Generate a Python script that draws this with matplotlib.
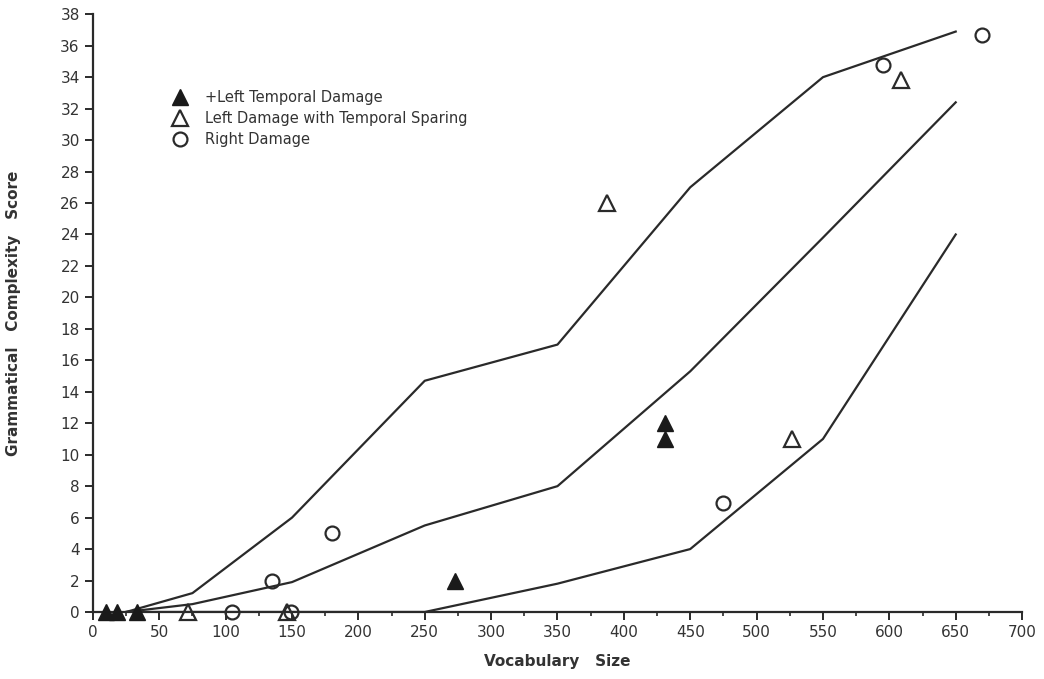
import matplotlib.pyplot as plt
import numpy as np

# percentile curves
curve_x = [25, 75, 150, 250, 350, 450, 550, 650]
upper_y = [0, 1.2, 6.0, 14.7, 17.0, 27.0, 34.0, 36.9]
middle_y = [0, 0.5, 1.9, 5.5, 8.0, 15.3, 23.8, 32.4]
lower_y = [0, 0, 0, 0, 1.8, 4.0, 11.0, 24.0]

# subject groups
ltd_x = [10, 18, 33, 273, 431, 431]
ltd_y = [0, 0, 0, 2, 12, 11]
lsp_x = [72, 146, 387, 527, 609]
lsp_y = [0, 0, 26, 11, 33.8]
rd_x = [105, 135, 149, 180, 475, 595, 670]
rd_y = [0, 2, 0, 5, 6.9, 34.8, 36.7]

fig = plt.figure(figsize=(10.44, 6.79), dpi=100)
ax = fig.add_axes([0.089, 0.0987, 0.89, 0.8803])

for cy in (upper_y, middle_y, lower_y):
    ax.plot(curve_x, cy, color='#2a2a2a', lw=1.6, zorder=2)

ax.plot(ltd_x, ltd_y, ls='none', marker='^', ms=11, color='#1a1a1a',
        label='+Left Temporal Damage', zorder=3, clip_on=False)
ax.plot(lsp_x, lsp_y, ls='none', marker='^', ms=12, mfc='none', mec='#2a2a2a',
        mew=1.6, label='Left Damage with Temporal Sparing', zorder=3, clip_on=False)
ax.plot(rd_x, rd_y, ls='none', marker='o', ms=10, mfc='none', mec='#2a2a2a',
        mew=1.6, label='Right Damage', zorder=3, clip_on=False)

ax.set_xlim(0, 700)
ax.set_ylim(0, 38)
ax.set_xticks(np.arange(0, 701, 50))
ax.set_xticks(np.arange(25, 700, 50), minor=True)
ax.set_yticks(np.arange(0, 39, 2))
ax.spines['top'].set_visible(False)
ax.spines['right'].set_visible(False)
for s in ('left', 'bottom'):
    ax.spines[s].set_linewidth(1.6)
    ax.spines[s].set_color('#2a2a2a')
ax.tick_params(which='major', direction='out', length=6, width=1.4,
               labelsize=11, colors='#2a2a2a', labelcolor='#333333')
ax.tick_params(which='minor', direction='out', length=3, width=1.2, colors='#2a2a2a')

ax.set_xlabel('Vocabulary   Size', fontsize=11, fontweight='bold', color='#333333',
              labelpad=10)
ax.set_ylabel('Grammatical   Complexity   Score', fontsize=11, fontweight='bold',
              color='#333333', labelpad=28)

ax.legend(loc='upper left', bbox_to_anchor=(0.07, 0.895), frameon=False,
          fontsize=10.5, handletextpad=1.1, labelspacing=0.4, handlelength=1.2,
          labelcolor='#333333')

fig.savefig('out.png', dpi=100, facecolor='white')
